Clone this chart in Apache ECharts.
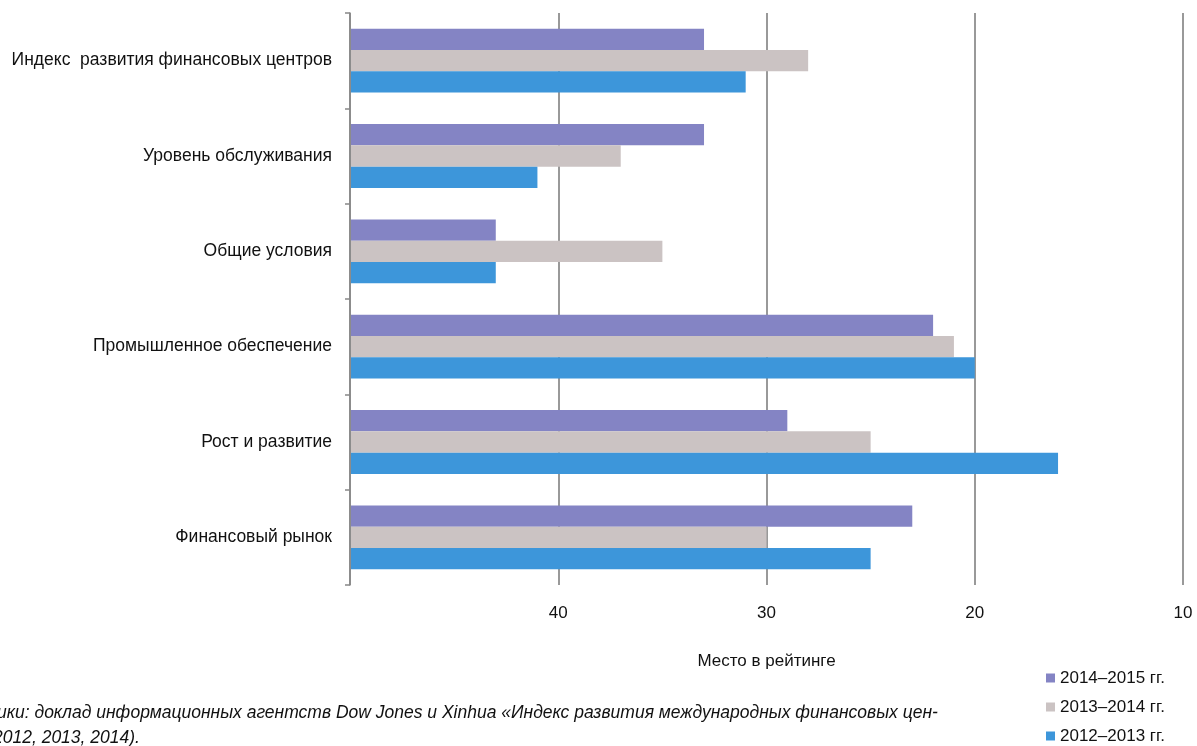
<!DOCTYPE html>
<html><head><meta charset="utf-8">
<script src="https://cdn.jsdelivr.net/npm/echarts@6/dist/echarts.min.js"></script>
<style>html,body{margin:0;padding:0;background:#fff}#c{width:1197px;height:746px}</style>
</head><body><div id="c"></div>
<script>
const categories = ['Индекс  развития финансовых центров','Уровень обслуживания','Общие условия','Промышленное обеспечение','Рост и развитие','Финансовый рынок'];
const seriesNames = ['2014–2015 гг.','2013–2014 гг.','2012–2013 гг.'];
const s2014 = [33, 33, 43, 22, 29, 23];
const s2013 = [28, 37, 35, 21, 25, 30];
const s2012 = [31, 41, 43, 20, 16, 25];
const axisStart = 50;
const colors = ['#8484c4','#cbc3c3','#3d96da'];
const FONT = '"Liberation Sans Narrow", "Liberation Sans", sans-serif';
const chart = echarts.init(document.getElementById('c'));
const mk = (k, d) => ({
  name:seriesNames[k], type:'custom', itemStyle:{color:colors[k]},
  encode:{x:0,y:1},
  data:d.map((v,i)=>[v,i]),
  renderItem:(params, api) => {
    const idx = api.value(1), val = api.value(0);
    const band = Math.abs(api.size([0,1])[1]);
    const groupH = band*0.67, barH = groupH/3;
    const p0 = api.coord([axisStart, idx]);
    const p1 = api.coord([val, idx]);
    const y = p0[1] - groupH/2 + k*barH;
    return {type:'rect', shape:{x:p0[0]+1, y:y, width:p1[0]-p0[0]-1, height:barH}, style:api.style()};
  }
});
chart.setOption({
  animation:false,
  textStyle:{fontFamily:FONT},
  grid:{left:350,right:14,top:13,bottom:161,containLabel:false},
  xAxis:{type:'value',min:10,max:50,interval:10,inverse:true,
    axisLine:{show:false},axisTick:{show:false},
    axisLabel:{color:'#111',fontSize:17,fontFamily:FONT,margin:20,
      formatter:v=>v===50?'':String(v)},
    splitLine:{show:true,lineStyle:{color:'#777',width:1.5}},
    name:'Место в рейтинге',nameLocation:'middle',nameGap:68,
    nameTextStyle:{color:'#111',fontSize:17,fontFamily:FONT}},
  yAxis:{type:'category',data:categories,inverse:true,
    axisLine:{show:true,lineStyle:{color:'#888',width:1.5}},
    axisTick:{show:true,length:5,lineStyle:{color:'#888',width:1.5}},
    axisLabel:{color:'#111',fontSize:17.5,fontFamily:FONT,margin:18}},
  legend:{orient:'vertical',left:1041,top:663,height:120,itemWidth:9,itemHeight:9,itemGap:9,icon:'rect',
    textStyle:{color:'#111',fontSize:17,fontFamily:FONT,lineHeight:20},data:seriesNames},
  series:[mk(0,s2014),mk(1,s2013),mk(2,s2012)],
  graphic:[
    {type:'text',left:-3,top:704,style:{text:'ики: доклад информационных агентств Dow Jones и Xinhua «Индекс развития международных финансовых цен-',
      fill:'#111',font:'italic 17.5px '+FONT}},
    {type:'text',left:-7,top:729,style:{text:'2012, 2013, 2014).',fill:'#111',font:'italic 17.5px '+FONT}}
  ]
});
</script></body></html>
